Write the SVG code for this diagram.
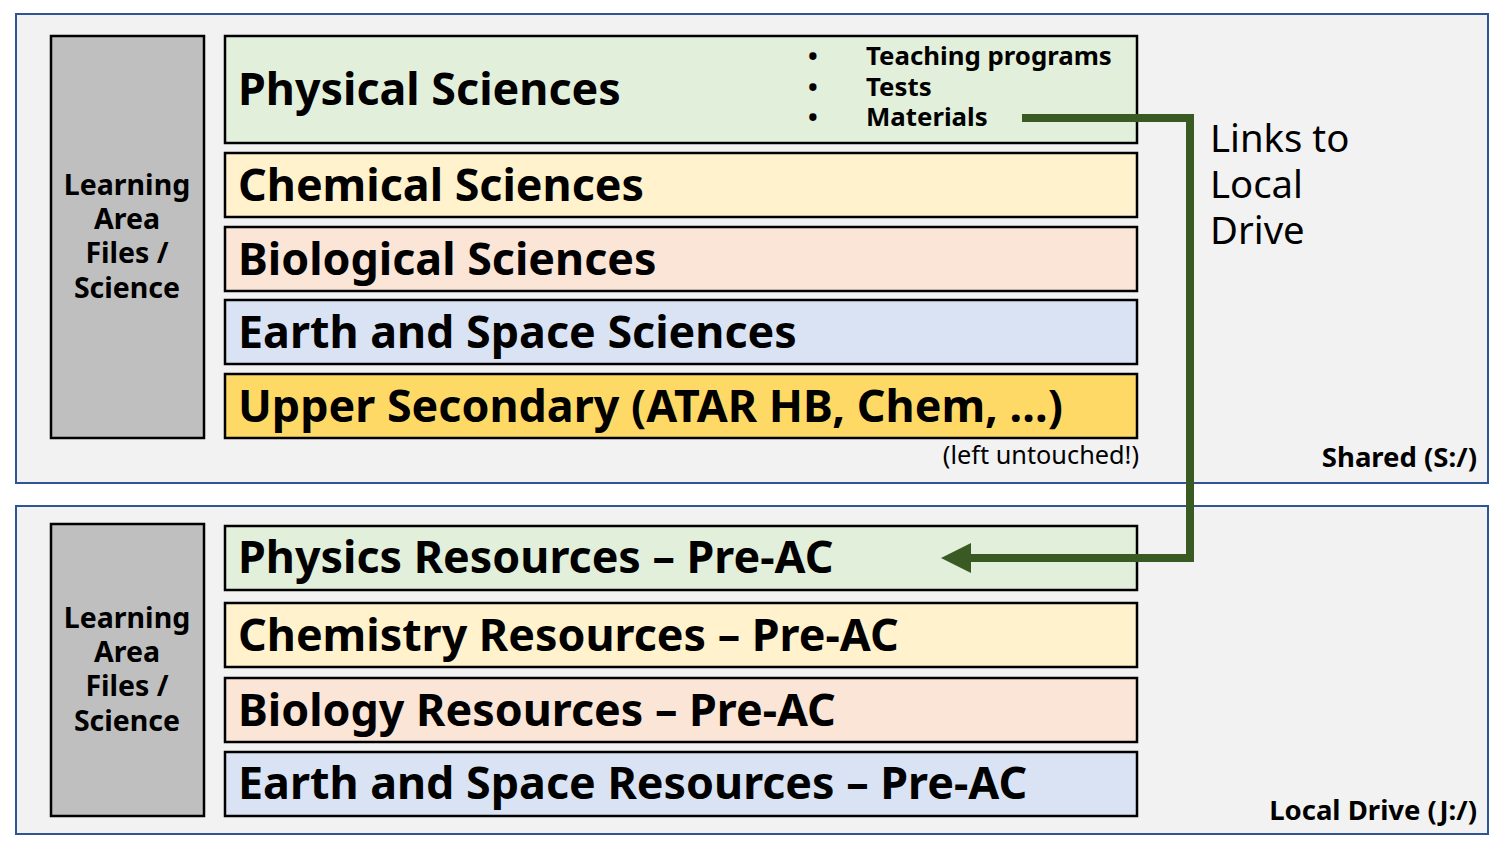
<svg xmlns="http://www.w3.org/2000/svg" width="1506" height="850" viewBox="0 0 1506 850">
<defs>
<style>
.panel{fill:#F2F2F2;stroke:#2F5597;stroke-width:2}
.side{fill:#BFBFBF;stroke:#000;stroke-width:2.5}
.row{stroke:#000;stroke-width:2.5}
.g{fill:#E2EFDA}.y{fill:#FFF2CC}.o{fill:#FBE5D6}.b{fill:#DAE3F3}.gold{fill:#FFD966}
.big{font-family:"Noto Sans","Open Sans","DejaVu Sans",sans-serif;font-weight:bold;font-size:44.8px;fill:#000}
.side-t{font-family:"Noto Sans","Open Sans","DejaVu Sans",sans-serif;font-weight:bold;font-size:28.5px;fill:#000;text-anchor:middle}
.bul{font-family:"Noto Sans","Open Sans","DejaVu Sans",sans-serif;font-weight:bold;font-size:25.8px;fill:#000}
.lbl{font-family:"Noto Sans","Open Sans","DejaVu Sans",sans-serif;font-weight:bold;font-size:27.5px;fill:#000;text-anchor:end}
.note{font-family:"Noto Sans","Open Sans","DejaVu Sans",sans-serif;font-size:25.3px;fill:#000;text-anchor:end}
.link{font-family:"Noto Sans","Open Sans","DejaVu Sans",sans-serif;font-size:38.3px;fill:#000}
.conn{fill:none;stroke:#3A5A24;stroke-width:8}
</style>
</defs>

<g id="shared-panel">
<rect class="panel" x="16" y="14" width="1472" height="469"/>
<text class="lbl" x="1477" y="467">Shared (S:/)</text>
<text class="note" x="1139" y="464">(left untouched!)</text>
</g>
<g id="local-panel">
<rect class="panel" x="16" y="506" width="1472" height="328"/>
<text class="lbl" x="1477" y="820">Local Drive (J:/)</text>
</g>

<g id="shared-side">
<rect class="side" x="51" y="36" width="153" height="402"/>
<text class="side-t" x="127"><tspan x="127" y="195">Learning</tspan><tspan x="127" y="229">Area</tspan><tspan x="127" y="263">Files /</tspan><tspan x="127" y="298">Science</tspan></text>
</g>
<g id="local-side">
<rect class="side" x="51" y="524" width="153" height="292"/>
<text class="side-t" x="127"><tspan x="127" y="628">Learning</tspan><tspan x="127" y="662">Area</tspan><tspan x="127" y="696">Files /</tspan><tspan x="127" y="731">Science</tspan></text>
</g>

<g id="physical-sciences">
<rect class="row g" x="225" y="36" width="912" height="107"/>
<text class="big" x="238" y="105">Physical Sciences</text>
<text class="bul"><tspan x="808" y="65">•</tspan><tspan x="866" y="65">Teaching programs</tspan><tspan x="808" y="96">•</tspan><tspan x="866" y="96">Tests</tspan><tspan x="808" y="126">•</tspan><tspan x="866" y="126">Materials</tspan></text>
</g>
<g id="chemical-sciences">
<rect class="row y" x="225" y="153" width="912" height="64"/>
<text class="big" x="238" y="201">Chemical Sciences</text>
</g>
<g id="biological-sciences">
<rect class="row o" x="225" y="227" width="912" height="64"/>
<text class="big" x="238" y="275">Biological Sciences</text>
</g>
<g id="earth-space-sciences">
<rect class="row b" x="225" y="300" width="912" height="64"/>
<text class="big" x="238" y="348">Earth and Space Sciences</text>
</g>
<g id="upper-secondary">
<rect class="row gold" x="225" y="374" width="912" height="64"/>
<text class="big" x="238" y="422">Upper Secondary (ATAR HB, Chem, …)</text>
</g>

<g id="physics-resources">
<rect class="row g" x="225" y="526" width="912" height="64"/>
<text class="big" x="238" y="573">Physics Resources – Pre-AC</text>
</g>
<g id="chemistry-resources">
<rect class="row y" x="225" y="603" width="912" height="64"/>
<text class="big" x="238" y="651">Chemistry Resources – Pre-AC</text>
</g>
<g id="biology-resources">
<rect class="row o" x="225" y="678" width="912" height="64"/>
<text class="big" x="238" y="726">Biology Resources – Pre-AC</text>
</g>
<g id="earth-space-resources">
<rect class="row b" x="225" y="752" width="912" height="64"/>
<text class="big" x="238" y="799">Earth and Space Resources – Pre-AC</text>
</g>

<g id="connectors">
<path class="conn" d="M1022,118 H1190 V558 H970"/>
<polygon points="941,558 971,543 971,573" fill="#3A5A24"/>
<text class="link"><tspan x="1210" y="152">Links to</tspan><tspan x="1210" y="198">Local</tspan><tspan x="1210" y="244">Drive</tspan></text>
</g>
</svg>
